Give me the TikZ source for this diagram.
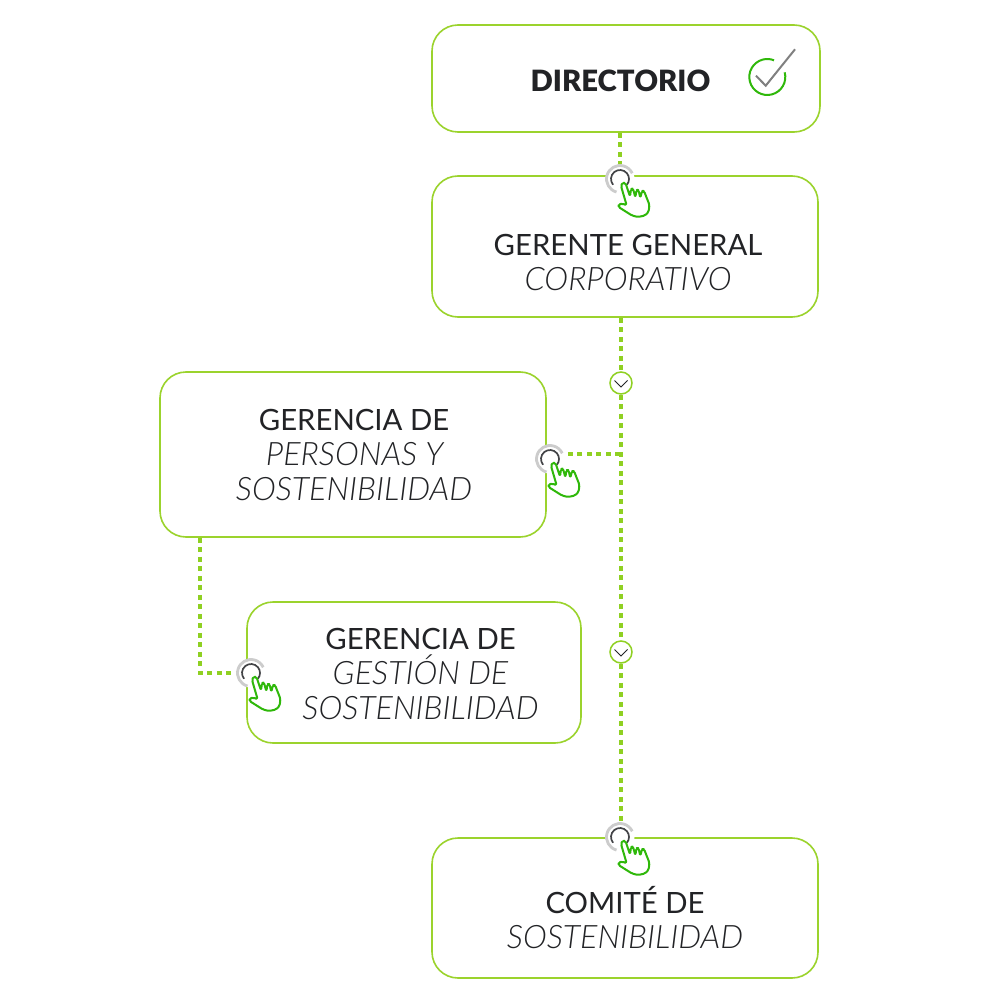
\documentclass[tikz,border=0pt]{standalone}
\usepackage{fontspec}
\setmainfont{Lato}
\newfontfamily\latolight{Lato Light Italic}
\newfontfamily\latoblack{Lato Black}
\usetikzlibrary{calc}
\definecolor{boxgreen}{HTML}{9BD32D}
\definecolor{linegreen}{HTML}{8FD022}
\definecolor{handgreen}{HTML}{2FB80A}
\definecolor{ink}{HTML}{222326}
\tikzset{
  x=1pt,y=-1pt,
  boxnode/.style={draw=boxgreen,line width=1.6pt,fill=white,rounded corners=26pt,inner sep=0pt},
  conn/.style={draw=linegreen,line width=3.5pt,dash pattern=on 5pt off 4.5pt},
  hubnode/.style={circle,fill=white,minimum size=29pt,inner sep=0pt},
  chevnode/.style={circle,draw=linegreen,line width=1.5pt,fill=white,minimum size=22pt,inner sep=0pt},
  label/.style={text=ink,align=center,anchor=base,font=\fontsize{29.3}{35}\selectfont,inner sep=0pt},
  sublabel/.style={text=ink,align=center,anchor=base,font=\latolight\fontsize{32.3}{35}\selectfont,inner sep=0pt},
  hand/.pic={
    \draw[draw=handgreen,line width=2pt,line join=round,fill=white,rounded corners=1.7pt]
      (5.5,4) -- (10,17.5) -- (11,10) -- (13,9.5) -- (15.3,18.5)
      -- (16.5,11) -- (18.5,11) -- (20.3,19)
      -- (22,12) -- (24,12) -- (29.5,26) -- (28.5,33) -- (25,36.5) -- (18,38)
      -- (12,36.5) -- (-1.5,28) -- (-1.5,25.5) -- (2.5,24.5) -- (6.7,26.5)
      -- (1,7) -- (2.5,3.5) -- cycle;
  },
  hubring/.pic={
    \draw[y=1pt,draw=gray!40,line width=2.8pt] (-105:13.5) arc[start angle=-105,end angle=-335,radius=13.5];
    \draw[y=1pt,draw=ink!85,line width=1.7pt] (-140:9) arc[start angle=-140,end angle=-400,radius=9];
  },
  chevron/.pic={
    \draw[draw=ink,line width=1pt] (-6.5,-2.5) -- (0,4) -- (6.5,-2.5);
  },
  checkring/.pic={
    \draw[y=1pt,draw=handgreen,line width=2pt] (15:18) arc[start angle=15,end angle=-292,radius=18];
  }
}
\begin{document}
\begin{tikzpicture}
\useasboundingbox (0,0) rectangle (1000,1000);
\fill[white] (0,0) rectangle (1000,1000);

\coordinate (j) at (620,454);
\coordinate (k) at (200,673);
\coordinate (chk) at (767.3,77);
\coordinate (cka) at (756,75.7);
\coordinate (ckb) at (765.7,85.7);
\coordinate (ckc) at (795,49.3);

\node[hubnode] (h1) at (620,179) {};
\node[hubnode] (h3) at (550,459) {};
\node[hubnode] (h2) at (251,673) {};
\node[hubnode] (h4) at (620,837) {};

\node[boxnode,minimum width=388pt,minimum height=107pt] (dir) at (626,78.5) {};
\node[boxnode,minimum width=386pt,minimum height=141pt] (gg) at (625,246.5) {};
\node[boxnode,minimum width=386pt,minimum height=165pt] (pers) at (353,454.5) {};
\node[boxnode,minimum width=334pt,minimum height=141pt] (gest) at (414,672.5) {};
\node[boxnode,minimum width=386pt,minimum height=140pt] (com) at (625,908) {};

\node[chevnode] (c1) at (621,383) {};
\node[chevnode] (c2) at (621,652) {};

\draw[conn] (dir.south -| h1) -- (h1.north);
\draw[conn] (gg.south -| c1) -- (c1.north);
\draw[conn] (c1.south) -- (c2.north);
\draw[conn] (c2.south) -- (h4.north -| c2);
\draw[conn] (j) -- (h3.east |- j);
\draw[conn] (pers.south -| k) -- (k) -- (h2.west |- k);

\node[hubnode] at (h1) {};
\node[hubnode] at (h3) {};
\node[hubnode] at (h2) {};
\node[hubnode] at (h4) {};
\foreach \h in {h1,h2,h3,h4}{
  \pic at (\h) {hubring};
  \pic at (\h) {hand};
}
\pic at (c1) {chevron};
\pic at (c2) {chevron};

\pic at (chk) {checkring};
\draw[draw=gray,line width=2pt] (cka) -- (ckb) -- (ckc);

\node[label,font=\latoblack\fontsize{29.3}{35}\selectfont] (t1) at (620.5,91.5) {DIRECTORIO};
\node[label] (t2a) at (628,255) {GERENTE GENERAL};
\node[sublabel] (t2b) at (628,290) {CORPORATIVO};
\node[label] (t3a) at (354,430) {GERENCIA DE};
\node[sublabel] (t3b) at (354.5,465) {PERSONAS Y};
\node[sublabel] (t3c) at (354,500) {SOSTENIBILIDAD};
\node[label] (t4a) at (420.5,649) {GERENCIA DE};
\node[sublabel] (t4b) at (420.5,684) {GESTIÓN DE};
\node[sublabel] (t4c) at (420.5,719) {SOSTENIBILIDAD};
\node[label] (t5a) at (625,913) {COMITÉ DE};
\node[sublabel] (t5b) at (625,948) {SOSTENIBILIDAD};
\end{tikzpicture}
\end{document}
